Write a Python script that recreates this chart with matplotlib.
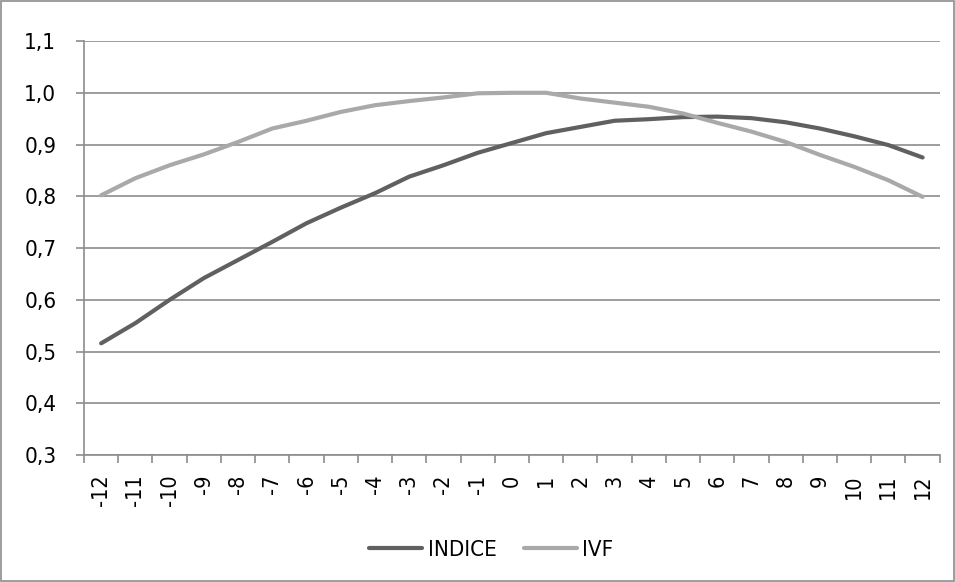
import matplotlib
matplotlib.use("Agg")
import matplotlib.pyplot as plt
from matplotlib.ticker import FuncFormatter, FixedLocator
from matplotlib.patches import Rectangle

plt.rcParams['font.family'] = ['Liberation Sans Narrow', 'DejaVu Sans']
plt.rcParams['font.stretch'] = 'condensed'

meses = list(range(-12, 13))
indice = [0.516, 0.555, 0.600, 0.642, 0.677, 0.712, 0.748, 0.778, 0.806, 0.838,
          0.860, 0.884, 0.903, 0.922, 0.934, 0.946, 0.949, 0.953, 0.954, 0.951,
          0.943, 0.931, 0.916, 0.899, 0.875]
ivf = [0.802, 0.835, 0.860, 0.881, 0.905, 0.931, 0.946, 0.963, 0.976, 0.984,
       0.991, 0.999, 1.000, 1.000, 0.989, 0.981, 0.973, 0.960, 0.942, 0.925,
       0.905, 0.880, 0.857, 0.831, 0.799]

gris = '#8c8c8c'

fig = plt.figure(figsize=(9.55, 5.82), dpi=100)
ax = fig.add_axes([0.088, 0.218, 0.896, 0.7115])

x = list(range(len(meses)))
ax.plot(x, indice, color='#606060', lw=3.0, solid_capstyle='round', label='INDICE', zorder=3)
ax.plot(x, ivf, color='#a9a9a9', lw=3.0, solid_capstyle='round', label='IVF', zorder=3)

ax.set_xlim(-0.5, len(meses) - 0.5)
ax.set_ylim(0.3, 1.1)
ax.set_yticks([0.3 + 0.1 * i for i in range(9)])
ax.yaxis.set_major_formatter(FuncFormatter(lambda v, p: f"{v:.1f}".replace('.', ',')))
ax.grid(axis='y', color=gris, lw=1.2)
ax.set_axisbelow(True)

# etiquetas en el centro de cada categoría, marcas entre categorías
ax.set_xticks(x)
ax.set_xticklabels([str(m) for m in meses], rotation=90, fontsize=15.5)
ax.tick_params(axis='x', which='major', length=0, pad=14)
ax.xaxis.set_minor_locator(FixedLocator([i - 0.5 for i in range(len(meses) + 1)]))
ax.tick_params(axis='x', which='minor', length=6, color=gris, width=1.2)
ax.tick_params(axis='y', length=6, color=gris, width=1.2, labelsize=16, pad=14)

for s in ['top', 'right']:
    ax.spines[s].set_visible(False)
for s in ['left', 'bottom']:
    ax.spines[s].set_color(gris)
    ax.spines[s].set_linewidth(1.2)

ax.legend(loc='center', bbox_to_anchor=(0.476, -0.229), ncol=2, frameon=False,
          fontsize=16, handlelength=2.4, columnspacing=1.2, handletextpad=0.25)

fig.patches.append(Rectangle((0.001, 0.001), 0.998, 0.998, transform=fig.transFigure,
                             fill=False, edgecolor=gris, lw=1.2))

fig.savefig('out.png', dpi=100)
